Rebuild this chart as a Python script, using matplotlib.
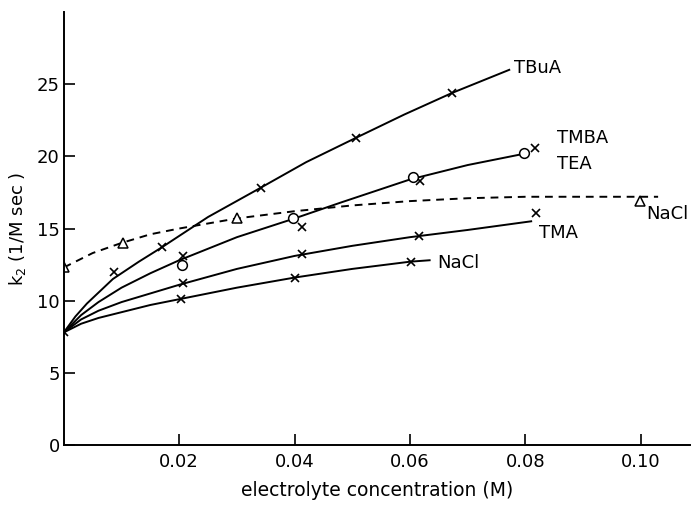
#!/usr/bin/env python3
"""Rate constant k2 versus electrolyte concentration for several salts."""

import matplotlib
matplotlib.use("Agg")
import matplotlib.pyplot as plt

# smooth curves
tbua_curve_x = [0.0, 0.002, 0.004, 0.0085, 0.013, 0.017, 0.025, 0.034, 0.042, 0.0507, 0.059, 0.0673, 0.0772]
tbua_curve_y = [7.8, 8.9, 9.8, 11.5, 12.7, 13.7, 15.8, 17.8, 19.6, 21.3, 22.9, 24.4, 26.0]

tmba_curve_x = [0.0, 0.003, 0.006, 0.01, 0.015, 0.02, 0.03, 0.04, 0.048, 0.06, 0.07, 0.08]
tmba_curve_y = [7.8, 9.0, 9.9, 10.9, 11.9, 12.8, 14.4, 15.7, 16.8, 18.4, 19.4, 20.2]

tma_curve_x = [0.0, 0.003, 0.006, 0.01, 0.015, 0.02, 0.03, 0.04, 0.05, 0.06, 0.07, 0.081]
tma_curve_y = [7.8, 8.7, 9.3, 9.9, 10.5, 11.1, 12.2, 13.1, 13.8, 14.4, 14.9, 15.5]

nacl_curve_x = [0.0, 0.003, 0.006, 0.01, 0.015, 0.02, 0.03, 0.04, 0.05, 0.06, 0.0634]
nacl_curve_y = [7.8, 8.4, 8.8, 9.2, 9.7, 10.1, 10.9, 11.6, 12.2, 12.7, 12.8]

nacl_dash_x = [0.0, 0.005, 0.01, 0.015, 0.02, 0.03, 0.04, 0.05, 0.06, 0.07, 0.08, 0.09, 0.1, 0.103]
nacl_dash_y = [12.3, 13.3, 14.0, 14.6, 15.0, 15.7, 16.2, 16.6, 16.9, 17.1, 17.2, 17.2, 17.2, 17.2]

# measured points
cross_x = [0.0, 0.017, 0.0341, 0.0507, 0.0673, 0.0087,
           0.0207, 0.0412, 0.0617, 0.0817,
           0.0206, 0.0412, 0.0615, 0.0819,
           0.0203, 0.0401, 0.0601]
cross_y = [7.8, 13.7, 17.8, 21.3, 24.4, 12.0,
           13.1, 15.1, 18.3, 20.6,
           11.2, 13.2, 14.5, 16.1,
           10.1, 11.6, 12.7]

circle_x = [0.0205, 0.0398, 0.0606, 0.0798]
circle_y = [12.5, 15.7, 18.6, 20.2]

triangle_x = [0.0, 0.0102, 0.030, 0.0999]
triangle_y = [12.3, 14.0, 15.7, 16.9]

labels = ["TBuA", "TMBA", "TEA", "NaCl", "TMA", "NaCl"]
label_x = [0.0781, 0.0855, 0.0855, 0.1010, 0.0823, 0.0648]
label_y = [26.1, 21.3, 19.5, 16.0, 14.7, 12.6]

x_ticks = [0.02, 0.04, 0.06, 0.08, 0.10]
x_tick_labels = ["0.02", "0.04", "0.06", "0.08", "0.10"]
y_ticks = [0, 5, 10, 15, 20, 25]


def main() -> None:
    fig = plt.figure(figsize=(6.94, 5.05), dpi=100)
    ax = fig.add_axes([0.092, 0.119, 0.902, 0.857])

    for xs, ys in [(tbua_curve_x, tbua_curve_y), (tmba_curve_x, tmba_curve_y),
                   (tma_curve_x, tma_curve_y), (nacl_curve_x, nacl_curve_y)]:
        ax.plot(xs, ys, color="black", linewidth=1.4)
    ax.plot(nacl_dash_x, nacl_dash_y, color="black", linewidth=1.4,
            linestyle=(0, (4, 3)))

    ax.plot(cross_x, cross_y, linestyle="none", marker="x", markersize=6,
            markeredgewidth=1.2, color="black")
    ax.plot(circle_x, circle_y, linestyle="none", marker="o", markersize=7,
            markerfacecolor="white", markeredgecolor="black", markeredgewidth=1.1)
    ax.plot(triangle_x, triangle_y, linestyle="none", marker="^", markersize=7,
            markerfacecolor="white", markeredgecolor="black", markeredgewidth=1.1)

    for text, tx, ty in zip(labels, label_x, label_y):
        ax.text(tx, ty, text, fontsize=13, ha="left", va="center")

    ax.set_xlim(0, 0.1085)
    ax.set_ylim(0, 30)
    ax.set_xticks(x_ticks)
    ax.set_xticklabels(x_tick_labels)
    ax.set_yticks(y_ticks)
    ax.tick_params(direction="in", length=8, width=1.2, labelsize=13, pad=6)
    ax.tick_params(axis="y", pad=3)

    for side in ["top", "right"]:
        ax.spines[side].set_visible(False)
    for side in ["left", "bottom"]:
        ax.spines[side].set_linewidth(1.4)

    ax.set_xlabel("electrolyte concentration (M)", fontsize=13.5, labelpad=7)
    ax.set_ylabel("k$_2$ (1/M sec )", fontsize=13, labelpad=6)

    fig.savefig("out.png", dpi=100)
    plt.close(fig)


if __name__ == "__main__":
    main()
